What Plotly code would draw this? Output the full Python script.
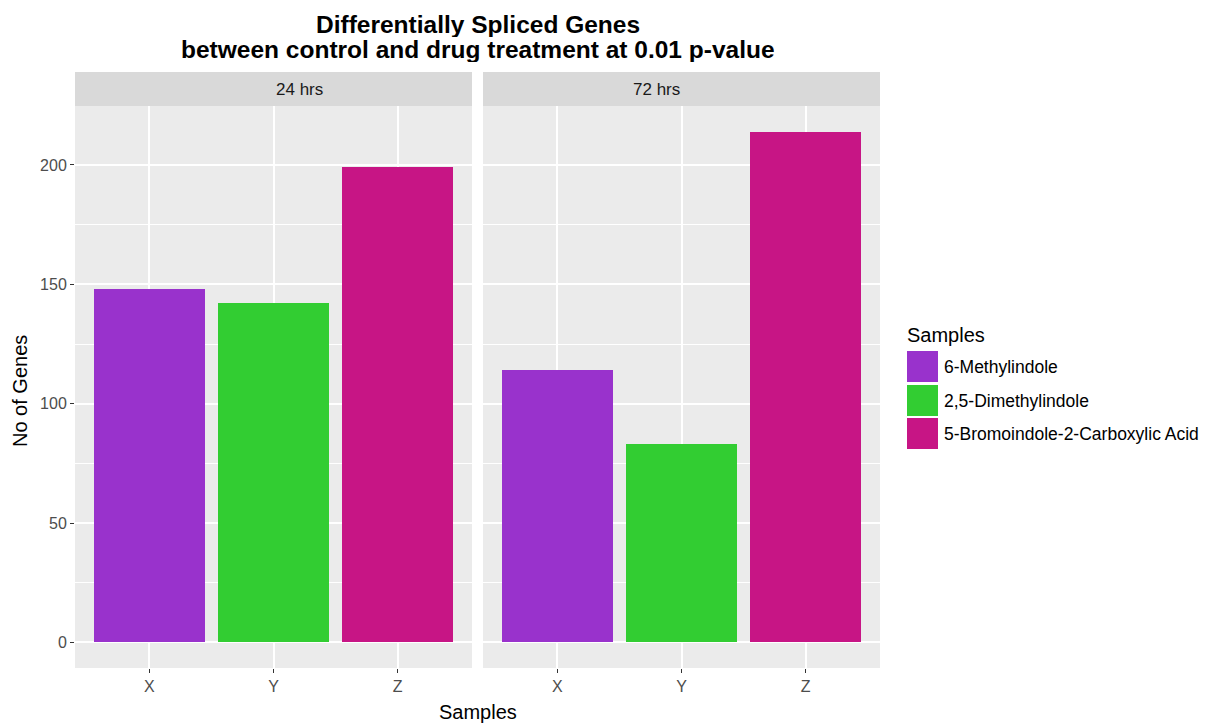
import plotly.graph_objects as go

categories = ["X", "Y", "Z"]
samples = ["6-Methylindole", "2,5-Dimethylindole", "5-Bromoindole-2-Carboxylic Acid"]
colors = ["#9932CC", "#32CD32", "#C71585"]
facets = ["24 hrs", "72 hrs"]
genes_24 = [148, 142, 199]
genes_72 = [114, 83, 214]
values = [genes_24, genes_72]
y_ticks = [0, 50, 100, 150, 200]

W, H = 1218, 725
OFF = 8  # page body margin
ml, mt = 75 - OFF, 106 - OFF
plot_right, plot_bottom = 880 - OFF, 668 - OFF
mr, mb = W - plot_right, H - plot_bottom
pw = plot_right - ml
ph = plot_bottom - mt
gap = 11
d1 = (pw - gap) / 2 / pw

fig = go.Figure()
for fi, vals in enumerate(values):
    xa = "x" if fi == 0 else "x2"
    ya = "y" if fi == 0 else "y2"
    for i, (cat, s, c) in enumerate(zip(categories, samples, colors)):
        fig.add_trace(go.Bar(x=[cat], y=[vals[i]], name=s, marker_color=c,
                             marker_line_width=0, width=0.9, xaxis=xa, yaxis=ya,
                             showlegend=False))

font = "Liberation Sans, Arial, sans-serif"
ymax = max(max(v) for v in values)
yr = [-0.05 * ymax, 1.05 * ymax]
tickfont = dict(family=font, size=16, color="#4D4D4D")
grid = dict(showgrid=True, gridcolor="white", gridwidth=1.7, zeroline=False, showline=False)
minor = dict(tick0=25, dtick=50, showgrid=True, gridcolor="white", gridwidth=0.8, ticks="")
fig.update_layout(
    width=W, height=H, margin=dict(l=ml, r=mr, t=mt, b=mb),
    paper_bgcolor="white", plot_bgcolor="#EBEBEB", barmode="overlay", bargap=0,
    xaxis=dict(domain=[0, d1], type="category", categoryorder="array", categoryarray=categories,
               range=[-0.6, 2.6], ticks="outside", ticklen=4, tickcolor="#333333", tickwidth=1.1,
               tickfont=tickfont, **grid),
    xaxis2=dict(domain=[1 - d1, 1], type="category", categoryorder="array", categoryarray=categories,
                range=[-0.6, 2.6], anchor="y2", ticks="outside", ticklen=4, tickcolor="#333333",
                tickwidth=1.1, tickfont=tickfont, **grid),
    yaxis=dict(range=yr, tickvals=y_ticks, minor=minor, ticks="outside", ticklen=4, tickcolor="#333333",
               tickwidth=1.1, tickfont=tickfont, **grid),
    yaxis2=dict(range=yr, tickvals=y_ticks, anchor="x2", showticklabels=False, minor=minor, ticks="", **grid),
)

# title (two lines, tight line spacing as in the reference)
title_lines = ["Differentially Spliced Genes", "between control and drug treatment at 0.01 p-value"]
title_centers = [24 - OFF, 49 - OFF]
for txt, cy in zip(title_lines, title_centers):
    fig.add_annotation(text=f"<b>{txt}</b>", xref="paper", yref="paper", x=0.5, xanchor="center",
                       y=1, yshift=mt - cy, yanchor="middle", showarrow=False, height=25, borderpad=0,
                       font=dict(family=font, size=24.5, color="black"))

# axis titles
fig.add_annotation(text="Samples", xref="paper", yref="paper", x=0.5, y=0, yshift=-(713 - 668) + 1,
                   yanchor="middle", showarrow=False, font=dict(family=font, size=20, color="black"))
fig.add_annotation(text="No of Genes", xref="paper", yref="paper", x=0, xshift=-(75 - 20),
                   xanchor="center", y=(668 - 391) / ph, yanchor="middle", textangle=-90,
                   showarrow=False, font=dict(family=font, size=20, color="black"))

# facet strips
strip_h = 34
for fi, name in enumerate(facets):
    x0, x1 = (0, d1) if fi == 0 else (1 - d1, 1)
    fig.add_shape(type="rect", xref="paper", yref="paper", x0=x0, x1=x1, y0=1, y1=1 + strip_h / ph,
                  fillcolor="#D9D9D9", line_width=0, layer="below")
    fig.add_annotation(text=name, xref="paper", yref="paper", x=(x0 + x1) / 2, y=1 + strip_h / 2 / ph,
                       yanchor="middle", showarrow=False, font=dict(family=font, size=17, color="#1A1A1A"))

# legend (drawn as keys + text, sized like the reference)
base = plot_bottom
fig.add_annotation(text="Samples", xref="paper", yref="paper", x=1, xshift=906 - 880 - 1, xanchor="left",
                   y=0, yshift=base - (335 - OFF), yanchor="middle", showarrow=False,
                   font=dict(family=font, size=20, color="black"))
key_tops = [351, 385, 418]
for s, c, kt in zip(samples, colors, key_tops):
    t = kt - OFF
    b = t + 31
    fig.add_shape(type="rect", xref="paper", yref="paper", xsizemode="pixel", ysizemode="pixel",
                  xanchor=1, yanchor=0, x0=27, x1=58, y0=base - b, y1=base - t,
                  fillcolor=c, line_width=0)
    fig.add_annotation(text=s, xref="paper", yref="paper", x=1, xshift=62, xanchor="left",
                       y=0, yshift=base - (t + 15.5), yanchor="middle", showarrow=False,
                       font=dict(family=font, size=17.5, color="black"))

fig.write_html("out.html")
